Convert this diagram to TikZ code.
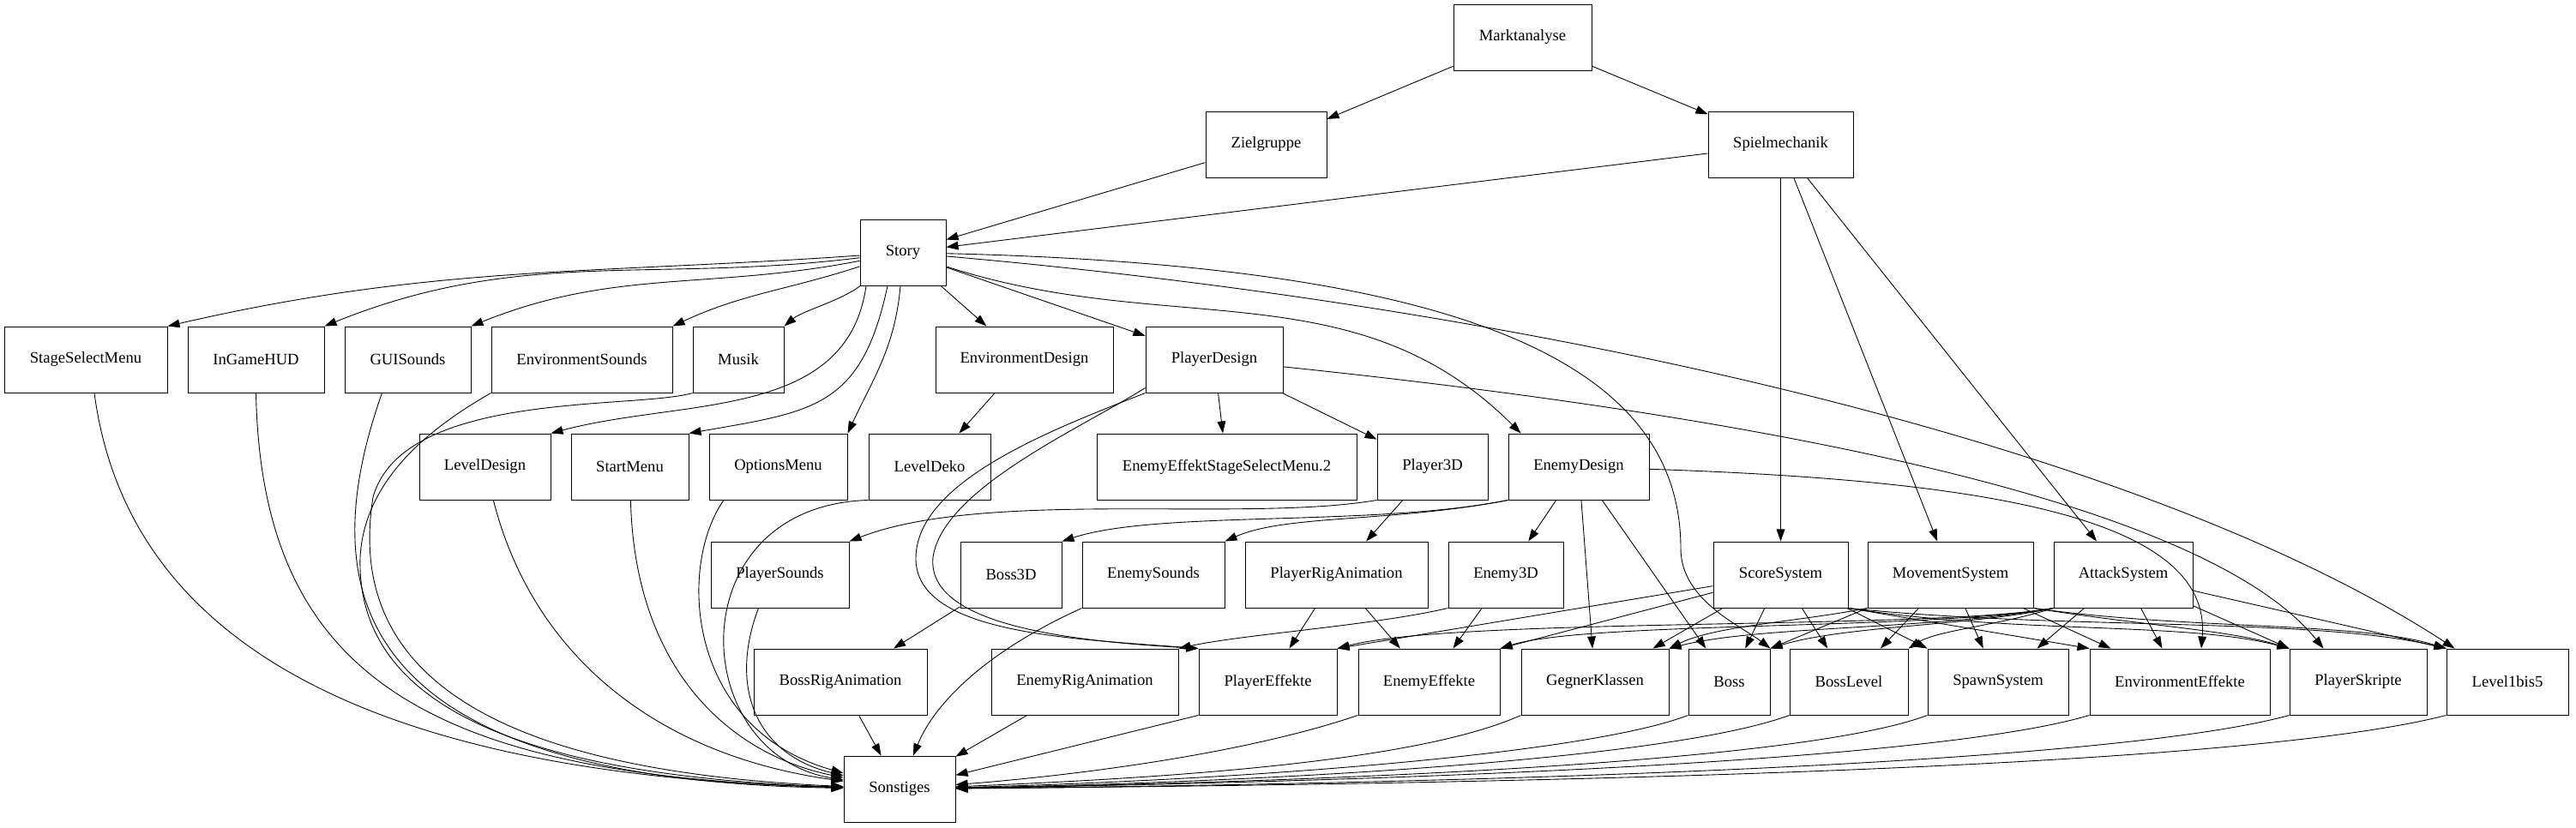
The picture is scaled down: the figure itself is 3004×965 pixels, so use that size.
\documentclass[tikz,border=0pt]{standalone}
\usepackage{fontspec}
\setmainfont{Liberation Serif}
\usepackage{tikz}
\usetikzlibrary{arrows.meta}

\tikzset{
  task/.style={draw, rectangle, line width=0.55pt, minimum height=1.54cm, inner sep=0pt,
    font=\fontsize{10.6}{12}\selectfont},
  boxw/.style={minimum width=#1*0.02cm},
  conn/.style={-{Triangle[length=8pt,width=5.5pt]}, line width=0.5pt}
}

\begin{document}
\begin{tikzpicture}[x=0.02cm, y=-0.02cm]
\useasboundingbox (0,0) rectangle (3004,965);

\node[task, boxw=161] (Marktanalyse) at (1775.5,43.5) {Marktanalyse};
\node[task, boxw=141] (Zielgruppe) at (1476.5,168.5) {Zielgruppe};
\node[task, boxw=169] (Spielmechanik) at (2076.5,168.5) {Spielmechanik};
\node[task, boxw=100] (Story) at (1053,294.5) {Story};

\node[task, boxw=190] (StageSelectMenu) at (100,419.5) {StageSelectMenu};
\node[task, boxw=159] (InGameHUD) at (298.5,419.5) {InGameHUD};
\node[task, boxw=147] (GUISounds) at (475.5,419.5) {GUISounds};
\node[task, boxw=211] (EnvironmentSounds) at (678.5,419.5) {EnvironmentSounds};
\node[task, boxw=106] (Musik) at (861,419.5) {Musik};
\node[task, boxw=207] (EnvironmentDesign) at (1194.5,419.5) {EnvironmentDesign};
\node[task, boxw=160] (PlayerDesign) at (1416,419.5) {PlayerDesign};

\node[task, boxw=153] (LevelDesign) at (565.5,544.5) {LevelDesign};
\node[task, boxw=137] (StartMenu) at (734.5,544.5) {StartMenu};
\node[task, boxw=161] (OptionsMenu) at (907.5,544.5) {OptionsMenu};
\node[task, boxw=142] (LevelDeko) at (1084,544.5) {LevelDeko};
\node[task, boxw=303] (EnemyEffektSSM) at (1430.5,544.5) {EnemyEffektStageSelectMenu.2};
\node[task, boxw=129] (Player3D) at (1670.5,544.5) {Player3D};
\node[task, boxw=164] (EnemyDesign) at (1841,544.5) {EnemyDesign};

\node[task, boxw=161] (PlayerSounds) at (909.5,670.5) {PlayerSounds};
\node[task, boxw=118] (Boss3D) at (1179,670.5) {Boss3D};
\node[task, boxw=166] (EnemySounds) at (1345,670.5) {EnemySounds};
\node[task, boxw=213] (PlayerRigAnimation) at (1558.5,670.5) {PlayerRigAnimation};
\node[task, boxw=134] (Enemy3D) at (1756,670.5) {Enemy3D};
\node[task, boxw=157] (ScoreSystem) at (2076.5,670.5) {ScoreSystem};
\node[task, boxw=193] (MovementSystem) at (2274.5,670.5) {MovementSystem};
\node[task, boxw=162] (AttackSystem) at (2476,670.5) {AttackSystem};

\node[task, boxw=202] (BossRigAnimation) at (980,795.5) {BossRigAnimation};
\node[task, boxw=218] (EnemyRigAnimation) at (1265,795.5) {EnemyRigAnimation};
\node[task, boxw=161] (PlayerEffekte) at (1478.5,795.5) {PlayerEffekte};
\node[task, boxw=165] (EnemyEffekte) at (1666.5,795.5) {EnemyEffekte};
\node[task, boxw=172] (GegnerKlassen) at (1860,795.5) {GegnerKlassen};
\node[task, boxw=95] (Boss) at (2016.5,795.5) {Boss};
\node[task, boxw=138] (BossLevel) at (2156,795.5) {BossLevel};
\node[task, boxw=164] (SpawnSystem) at (2330,795.5) {SpawnSystem};
\node[task, boxw=210] (EnvironmentEffekte) at (2542,795.5) {EnvironmentEffekte};
\node[task, boxw=160] (PlayerSkripte) at (2750,795.5) {PlayerSkripte};
\node[task, boxw=142] (Level1bis5) at (2924,795.5) {Level1bis5};

\node[task, boxw=130] (Sonstiges) at (1049,920.5) {Sonstiges};

\draw[conn] (Marktanalyse) -- (Zielgruppe);
\draw[conn] (Marktanalyse) -- (Spielmechanik);
\draw[conn] (Zielgruppe) -- (Story);
\draw[conn] (Spielmechanik) -- (Story);
\draw[conn] (Spielmechanik) -- (ScoreSystem);
\draw[conn] (Spielmechanik) -- (MovementSystem);
\draw[conn] (Spielmechanik) -- (AttackSystem);

\draw[conn] (Story) to[out=184,in=13] (StageSelectMenu.north east);
\draw[conn] (Story) to[out=187,in=22] (InGameHUD.north east);
\draw[conn] (Story) to[out=191,in=22] (GUISounds.north east);
\draw[conn] (Story) to[out=198,in=25] (EnvironmentSounds.north east);
\draw[conn] (Story) to[out=218,in=40,looseness=0.7] (Musik.north east);
\draw[conn] ([xshift=0.15cm]Story.south west) to[out=262,in=15] (LevelDesign.north east);
\draw[conn] ([xshift=0.65cm]Story.south west) to[out=258,in=10,looseness=1.3] (StartMenu.north east);
\draw[conn] ([xshift=0.95cm]Story.south west) to[out=265,in=65] (OptionsMenu.north east);
\draw[conn] (Story) -- (EnvironmentDesign);
\draw[conn] (Story) -- (PlayerDesign);
\draw[conn] (Story) to[out=-18,in=135] ([xshift=0.3cm]EnemyDesign.north west);
\draw[conn] (Story) .. controls (1700,310) and (1960,420) .. (1960,640)
  .. controls (1960,700) and (2030,730) .. (Boss.north east);
\draw[conn] (Story) .. controls (1800,360) and (2500,520) .. ([xshift=0.2cm]Level1bis5.north west);

\draw[conn] (EnvironmentDesign) -- (LevelDeko);
\draw[conn] (PlayerDesign) -- (EnemyEffektSSM);
\draw[conn] (PlayerDesign) -- (Player3D);
\draw[conn] (PlayerDesign) .. controls (1900,470) and (2550,560) .. ([xshift=0.8cm]PlayerSkripte.north west);
\draw[conn] (PlayerDesign.south west) .. controls (1230,500) and (1070,560) .. (1068,650)
  .. controls (1066,740) and (1250,745) .. (PlayerEffekte.north west);
\draw[conn] ([yshift=0.12cm]PlayerDesign.south west) .. controls (1260,500) and (1100,570) .. (1088,650)
  .. controls (1080,730) and (1250,748) .. (PlayerEffekte.north west);

\draw[conn] (Player3D) -- (PlayerRigAnimation);
\draw[conn] (Player3D.south west) .. controls (1450,610) and (1150,570) .. (PlayerSounds.north east);
\draw[conn] (EnemyDesign) -- (Enemy3D);
\draw[conn] (EnemyDesign) -- (GegnerKlassen);
\draw[conn] (EnemyDesign) -- (Boss);
\draw[conn] (EnemyDesign.south west) .. controls (1600,615) and (1350,595) .. (Boss3D.north east);
\draw[conn] (EnemyDesign.south west) .. controls (1620,610) and (1500,600) .. (EnemySounds.north east);
\draw[conn] (EnemyDesign) .. controls (2300,560) and (2580,600) .. ([xshift=0.5cm]EnvironmentEffekte.north);

\draw[conn] (Boss3D) -- (BossRigAnimation);
\draw[conn] (PlayerRigAnimation) -- (PlayerEffekte);
\draw[conn] (PlayerRigAnimation) -- (EnemyEffekte);
\draw[conn] (Enemy3D) -- (EnemyEffekte);
\draw[conn] (Enemy3D.south west) .. controls (1600,730) and (1450,740) .. (EnemyRigAnimation.north east);

\draw[conn] (ScoreSystem) -- (PlayerEffekte.north east);
\draw[conn] (ScoreSystem) -- (EnemyEffekte.north east);
\draw[conn] (ScoreSystem) -- (GegnerKlassen);
\draw[conn] (ScoreSystem) -- (Boss);
\draw[conn] (ScoreSystem) -- (BossLevel);
\draw[conn] (ScoreSystem) -- (SpawnSystem.north west);
\draw[conn] (ScoreSystem.south east) -- (EnvironmentEffekte.north west);
\draw[conn] (ScoreSystem.south east) .. controls (2350,740) and (2550,725) .. (PlayerSkripte.north west);
\draw[conn] (ScoreSystem.south east) .. controls (2400,735) and (2700,720) .. (Level1bis5.north west);

\draw[conn] (MovementSystem.south west) .. controls (2100,725) and (2000,730) .. (GegnerKlassen.north east);
\draw[conn] (MovementSystem.south west) -- (Boss.north east);
\draw[conn] (MovementSystem) -- (BossLevel);
\draw[conn] (MovementSystem) -- (SpawnSystem);
\draw[conn] (MovementSystem) -- ([xshift=0.5cm]EnvironmentEffekte.north west);
\draw[conn] (MovementSystem.south east) .. controls (2500,730) and (2600,735) .. (PlayerSkripte.north west);
\draw[conn] (MovementSystem.south east) .. controls (2550,735) and (2750,725) .. (Level1bis5.north west);

\draw[conn] (AttackSystem.south west) .. controls (2250,735) and (1700,720) .. (PlayerEffekte.north east);
\draw[conn] (AttackSystem.south west) .. controls (2250,735) and (1850,725) .. (EnemyEffekte.north east);
\draw[conn] (AttackSystem.south west) .. controls (2250,735) and (2050,730) .. (GegnerKlassen.north east);
\draw[conn] (AttackSystem.south west) .. controls (2300,730) and (2150,730) .. (Boss.north east);
\draw[conn] (AttackSystem.south west) .. controls (2330,730) and (2260,735) .. (BossLevel.north east);
\draw[conn] (AttackSystem) -- (SpawnSystem);
\draw[conn] (AttackSystem) -- (EnvironmentEffekte);
\draw[conn] (AttackSystem) -- (PlayerSkripte.north west);
\draw[conn] (AttackSystem) -- (Level1bis5.north west);

\draw[conn] ([xshift=0.2cm]StageSelectMenu.south) .. controls (150,760) and (450,905) .. (Sonstiges);
\draw[conn] (InGameHUD.south) .. controls (305,790) and (500,905) .. (Sonstiges);
\draw[conn] ([xshift=-0.6cm]GUISounds.south) .. controls (360,700) and (420,910) .. (Sonstiges);
\draw[conn] (EnvironmentSounds.south west) .. controls (500,500) and (425,560) .. (420,650)
  .. controls (415,820) and (600,905) .. (Sonstiges);
\draw[conn] (Musik.south west) .. controls (740,478) and (470,455) .. (435,580)
  .. controls (400,800) and (600,900) .. (Sonstiges);
\draw[conn] (LevelDesign) .. controls (620,760) and (760,880) .. (Sonstiges);
\draw[conn] (StartMenu) .. controls (740,780) and (850,880) .. (Sonstiges);
\draw[conn] ([xshift=0.35cm]OptionsMenu.south west) .. controls (790,660) and (800,850) .. (Sonstiges);
\draw[conn] (LevelDeko.south west) .. controls (790,590) and (800,880) .. (Sonstiges);
\draw[conn] ([xshift=-0.5cm]PlayerSounds.south) .. controls (850,800) and (880,880) .. (Sonstiges);
\draw[conn] (BossRigAnimation) -- (Sonstiges);
\draw[conn] (EnemySounds.south west) .. controls (1150,760) and (1090,820) .. (Sonstiges);
\draw[conn] (EnemyRigAnimation) -- (Sonstiges);
\draw[conn] (PlayerEffekte.south west) -- (Sonstiges);
\draw[conn] (EnemyEffekte.south west) .. controls (1450,880) and (1250,905) .. (Sonstiges);
\draw[conn] (GegnerKlassen.south west) .. controls (1650,890) and (1350,908) .. (Sonstiges);
\draw[conn] (Boss.south west) .. controls (1850,880) and (1450,910) .. (Sonstiges);
\draw[conn] (BossLevel.south west) .. controls (1950,885) and (1500,912) .. (Sonstiges);
\draw[conn] (SpawnSystem.south west) .. controls (2100,890) and (1550,912) .. (Sonstiges);
\draw[conn] (EnvironmentEffekte.south west) .. controls (2250,890) and (1600,912) .. (Sonstiges);
\draw[conn] (PlayerSkripte.south west) .. controls (2450,895) and (1650,915) .. (Sonstiges);
\draw[conn] (Level1bis5.south west) .. controls (2600,900) and (1700,915) .. (Sonstiges);
\end{tikzpicture}
\end{document}
